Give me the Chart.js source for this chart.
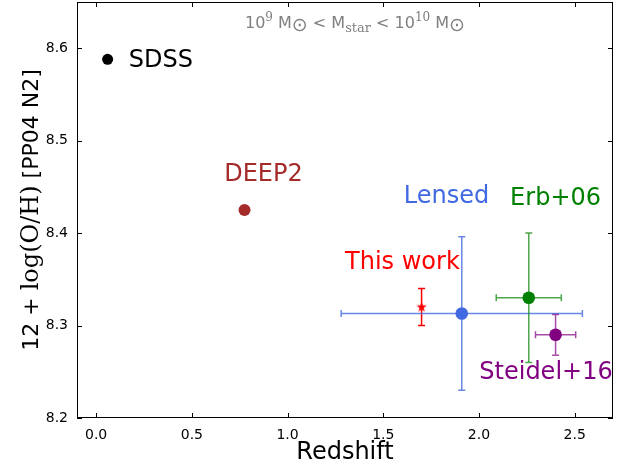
<!DOCTYPE html>
<html lang="en">
<head>
<meta charset="UTF-8">
<title>Metallicity vs redshift</title>
<script src="https://cdn.jsdelivr.net/npm/chart.js"></script>
<style>
  body { margin: 0; background: #fff; }
  #wrap { width: 629px; height: 469px; }
</style>
</head>
<body>
<div id="wrap"><canvas id="chart" width="629" height="469"></canvas></div>
<script>
// samples and measurements
const sampleNames = ['SDSS', 'DEEP2', 'This work', 'Lensed', 'Erb+06', 'Steidel+16'];
const redshifts   = [0.06, 0.775, 1.70, 1.91, 2.26, 2.40];
const metallicity = [8.588, 8.425, 8.32, 8.313, 8.33, 8.29];
const zErr  = [0, 0, 0, 0.63, 0.17, 0.105];
const ohErr = [0, 0, 0.02, 0.083, 0.07, 0.022];
const colors = ['#000000', '#a52a2a', '#ff0000', '#4169e1', '#008000', '#800080'];
const errAlpha = [1, 1, 1, 0.8, 0.7, 0.7];
// where each sample name is written (data coords)
const labelX = [0.17, 0.874, 1.60, 1.83, 2.40, 2.35];
const labelY = [8.586, 8.463, 8.368, 8.439, 8.437, 8.249];
const labelAlign = ['left', 'center', 'center', 'center', 'center', 'center'];

const xTicks = [0.0, 0.5, 1.0, 1.5, 2.0, 2.5];
const yTicks = [8.2, 8.3, 8.4, 8.5, 8.6];

// filled five-point star marker
function makeStar(r, color) {
  const c = document.createElement('canvas');
  c.width = c.height = Math.ceil(r * 2 + 2);
  const g = c.getContext('2d');
  g.fillStyle = color;
  g.beginPath();
  for (let i = 0; i < 10; i++) {
    const rad = i % 2 === 0 ? r : r * 0.4;
    const a = -Math.PI / 2 + i * Math.PI / 5;
    g.lineTo(r + 1 + rad * Math.cos(a), r + 1 + rad * Math.sin(a));
  }
  g.closePath();
  g.fill();
  return c;
}

function rgba(hex, a) {
  const n = parseInt(hex.slice(1), 16);
  return `rgba(${n >> 16},${(n >> 8) & 255},${n & 255},${a})`;
}

const radii = [5.5, 6, 6, 6.3, 6.3, 6.3];
const datasets = sampleNames.map((name, i) => ({
  label: name,
  data: [{ x: redshifts[i], y: metallicity[i] }],
  backgroundColor: colors[i],
  borderColor: colors[i],
  borderWidth: 0,
  pointRadius: radii[i],
  pointStyle: name === 'This work' ? makeStar(5.5, colors[i]) : 'circle',
  errX: zErr[i],
  errY: ohErr[i],
  errColor: rgba(colors[i], errAlpha[i])
}));

const errorBars = {
  id: 'errorBars',
  beforeDatasetsDraw(chart) {
    const { ctx, scales: { x, y } } = chart;
    ctx.save();
    ctx.lineWidth = 1.5;
    chart.data.datasets.forEach(ds => {
      const p = ds.data[0];
      const px = x.getPixelForValue(p.x), py = y.getPixelForValue(p.y);
      ctx.strokeStyle = ds.errColor;
      ctx.beginPath();
      if (ds.errX) {
        const x0 = x.getPixelForValue(p.x - ds.errX), x1 = x.getPixelForValue(p.x + ds.errX);
        ctx.moveTo(x0, py); ctx.lineTo(x1, py);
        ctx.moveTo(x0, py - 3.5); ctx.lineTo(x0, py + 3.5);
        ctx.moveTo(x1, py - 3.5); ctx.lineTo(x1, py + 3.5);
      }
      if (ds.errY) {
        const y0 = y.getPixelForValue(p.y - ds.errY), y1 = y.getPixelForValue(p.y + ds.errY);
        ctx.moveTo(px, y0); ctx.lineTo(px, y1);
        ctx.moveTo(px - 3.5, y0); ctx.lineTo(px + 3.5, y0);
        ctx.moveTo(px - 3.5, y1); ctx.lineTo(px + 3.5, y1);
      }
      ctx.stroke();
    });
    ctx.restore();
  }
};

const frameAndText = {
  id: 'frameAndText',
  afterDraw(chart) {
    const { ctx, chartArea: a, scales: { x, y } } = chart;
    ctx.save();
    // frame
    ctx.strokeStyle = '#000';
    ctx.lineWidth = 1;
    ctx.strokeRect(a.left + 0.5, a.top + 0.5, a.right - a.left - 1, a.bottom - a.top - 1);
    // inward ticks on all sides
    ctx.beginPath();
    xTicks.forEach(v => {
      const px = Math.round(x.getPixelForValue(v)) + 0.5;
      ctx.moveTo(px, a.bottom); ctx.lineTo(px, a.bottom - 5);
      ctx.moveTo(px, a.top); ctx.lineTo(px, a.top + 5);
    });
    yTicks.forEach(v => {
      const py = Math.round(y.getPixelForValue(v)) + 0.5;
      ctx.moveTo(a.left, py); ctx.lineTo(a.left + 5, py);
      ctx.moveTo(a.right, py); ctx.lineTo(a.right - 5, py);
    });
    ctx.stroke();

    // sample labels
    ctx.font = '24px "DejaVu Sans"';
    ctx.textBaseline = 'middle';
    sampleNames.forEach((n, i) => {
      ctx.fillStyle = colors[i];
      ctx.textAlign = labelAlign[i];
      ctx.fillText(n, x.getPixelForValue(labelX[i]), y.getPixelForValue(labelY[i]));
    });

    // x title
    ctx.fillStyle = '#000';
    ctx.textAlign = 'center';
    ctx.font = '24px "DejaVu Sans"';
    ctx.fillText('Redshift', (a.left + a.right) / 2, 453);

    // y title, mixed fonts
    const parts = [
      ['12 + ', '22px "DejaVu Sans"'],
      ['log(O/H)', '24px "DejaVu Serif"'],
      [' [PP04 N2]', '22px "DejaVu Sans"']
    ];
    let total = 0;
    parts.forEach(p => { ctx.font = p[1]; total += ctx.measureText(p[0]).width; });
    ctx.translate(32, 210);
    ctx.rotate(-Math.PI / 2);
    ctx.textAlign = 'left';
    let cx = -total / 2;
    parts.forEach(p => { ctx.font = p[1]; ctx.fillText(p[0], cx, 0); cx += ctx.measureText(p[0]).width; });
    ctx.setTransform(1, 0, 0, 1, 0, 0);

    // mass range title
    ctx.fillStyle = '#808080';
    ctx.textBaseline = 'alphabetic';
    const base = 28;
    const tparts = [
      ['10', '16px "DejaVu Sans"', 0],
      ['9', '12px "DejaVu Serif"', -7],
      [' M', '16px "DejaVu Sans"', 0],
      ['\u2299', '19px "DejaVu Sans"', 3],
      [' < M', '16px "DejaVu Sans"', 0],
      ['star', '13px "DejaVu Serif"', 4],
      [' < 10', '16px "DejaVu Sans"', 0],
      ['10', '12px "DejaVu Serif"', -7],
      [' M', '16px "DejaVu Sans"', 0],
      ['\u2299', '19px "DejaVu Sans"', 3]
    ];
    let tw = 0;
    tparts.forEach(p => { ctx.font = p[1]; tw += ctx.measureText(p[0]).width; });
    let tx = 355 - tw / 2;
    tparts.forEach(p => { ctx.font = p[1]; ctx.fillText(p[0], tx, base + p[2]); tx += ctx.measureText(p[0]).width; });
    ctx.restore();
  }
};

new Chart(document.getElementById('chart'), {
  type: 'scatter',
  data: { datasets },
  options: {
    responsive: false,
    animation: false,
    layout: { autoPadding: false, padding: { top: 2, right: 16, left: 0, bottom: 0 } },
    plugins: { legend: { display: false }, tooltip: { enabled: false } },
    scales: {
      x: {
        type: 'linear', min: -0.1, max: 2.7,
        afterFit: s => { s.height = 51; s.paddingLeft = 0; s.paddingRight = 0; },
        afterBuildTicks: s => { s.ticks = xTicks.map(v => ({ value: v })); },
        grid: { display: false }, border: { display: false },
        ticks: { padding: 1, color: '#000', font: { family: 'DejaVu Sans', size: 14 }, callback: v => v.toFixed(1) }
      },
      y: {
        type: 'linear', min: 8.2, max: 8.65,
        afterFit: s => { s.width = 77; s.paddingTop = 0; s.paddingBottom = 0; },
        afterBuildTicks: s => { s.ticks = yTicks.map(v => ({ value: v })); },
        grid: { display: false }, border: { display: false },
        ticks: { padding: 1, color: '#000', font: { family: 'DejaVu Sans', size: 14 }, callback: v => v.toFixed(1) }
      }
    }
  },
  plugins: [errorBars, frameAndText]
});
</script>
</body>
</html>
